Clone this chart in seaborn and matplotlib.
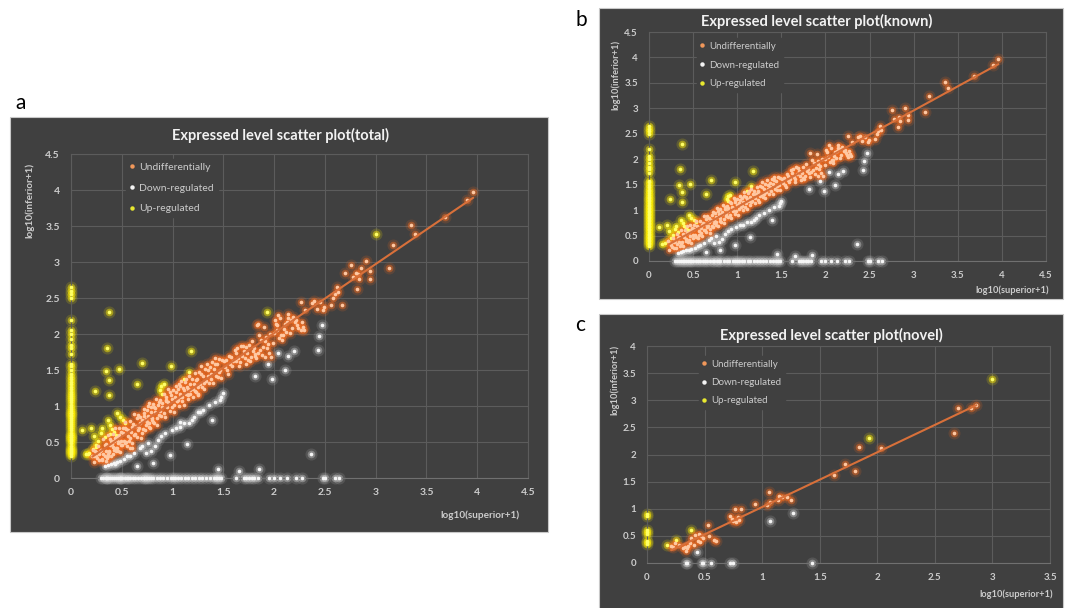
import matplotlib
matplotlib.use("Agg")
import matplotlib.pyplot as plt
import seaborn as sns
import pandas as pd
import numpy as np
from matplotlib.patches import Rectangle
from matplotlib.lines import Line2D
from matplotlib.ticker import FuncFormatter

# ---------------- data ----------------
series_labels = ["Undifferentially", "Down-regulated", "Up-regulated"]
panel_titles = ["Expressed level scatter plot(total)",
                "Expressed level scatter plot(known)",
                "Expressed level scatter plot(novel)"]
x_label = "log10(superior+1)"
y_label = "log10(inferior+1)"

known_undiff = [
    # dense cloud 0.2 - 1.5
    (0.22,0.39),(0.23,0.22),(0.25,0.36),(0.26,0.28),(0.27,0.45),(0.28,0.25),(0.30,0.39),(0.31,0.25),
    (0.32,0.54),(0.33,0.46),(0.34,0.38),(0.35,0.29),(0.36,0.60),(0.37,0.38),(0.38,0.54),(0.39,0.30),
    (0.40,0.47),(0.41,0.61),(0.42,0.39),(0.43,0.69),(0.44,0.37),(0.45,0.57),(0.46,0.49),(0.47,0.70),
    (0.48,0.36),(0.49,0.64),(0.50,0.46),(0.51,0.70),(0.52,0.52),(0.53,0.78),(0.55,0.45),(0.56,0.66),
    (0.57,0.52),(0.58,0.79),(0.59,0.64),(0.60,0.49),(0.61,0.75),(0.62,0.89),(0.63,0.61),(0.64,0.72),
    (0.65,0.57),(0.66,0.88),(0.67,0.69),(0.68,0.85),(0.69,0.56),(0.70,0.81),(0.71,0.68),(0.72,0.96),
    (0.73,0.66),(0.74,0.80),(0.75,0.95),(0.76,0.76),(0.77,1.04),(0.78,0.69),(0.79,0.92),(0.80,0.84),
    (0.81,1.03),(0.82,0.77),(0.83,0.92),(0.84,1.10),(0.85,0.74),(0.86,1.02),(0.87,0.88),(0.88,1.09),
    (0.89,0.86),(0.90,0.98),(0.92,1.16),(0.93,0.85),(0.94,1.07),(0.95,0.99),(0.96,1.24),(0.97,0.93),
    (0.98,1.15),(0.99,0.99),(1.00,1.22),(1.01,0.91),(1.02,1.13),(1.03,1.28),(1.04,1.07),(1.05,1.24),
    (1.06,1.00),(1.07,1.16),(1.08,1.35),(1.09,1.07),(1.10,1.25),(1.11,1.02),(1.12,1.33),(1.13,1.17),
    (1.14,1.26),(1.15,1.10),(1.16,1.42),(1.17,1.17),(1.19,1.37),(1.20,1.13),(1.21,1.31),(1.22,1.46),
    (1.23,1.20),(1.24,1.38),(1.25,1.15),(1.26,1.47),(1.27,1.30),(1.28,1.56),(1.29,1.26),(1.30,1.42),
    (1.31,1.24),(1.32,1.52),(1.33,1.35),(1.34,1.59),(1.35,1.42),(1.36,1.32),(1.37,1.54),(1.38,1.38),
    (1.39,1.61),(1.40,1.32),(1.41,1.51),(1.42,1.66),(1.43,1.42),(1.44,1.58),(1.45,1.40),(1.46,1.65),
    (1.47,1.50),(1.48,1.39),(1.49,1.64),
    (0.245,0.31),(0.285,0.37),(0.315,0.33),(0.345,0.47),(0.365,0.34),(0.395,0.52),(0.415,0.43),
    (0.435,0.55),(0.455,0.42),(0.475,0.60),(0.495,0.51),(0.515,0.63),(0.535,0.48),(0.545,0.68),
    (0.565,0.58),(0.585,0.55),(0.605,0.71),(0.625,0.60),(0.645,0.83),(0.655,0.66),(0.675,0.77),
    (0.695,0.63),(0.715,0.90),(0.735,0.74),(0.755,0.86),(0.765,0.71),(0.785,0.99),(0.805,0.78),
    (0.825,0.97),(0.845,0.83),(0.865,1.06),(0.875,0.93),(0.895,1.04),(0.915,0.90),(0.935,1.13),
    (0.955,1.05),(0.975,1.19),(0.995,1.10),(1.015,1.02),(1.035,1.20),(1.055,1.09),(1.075,1.28),
    (1.095,1.13),(1.115,1.22),(1.135,1.38),(1.155,1.15),(1.175,1.31),(1.205,1.23),(1.235,1.36),
    (1.255,1.27),(1.285,1.45),(1.305,1.32),(1.345,1.50),(1.375,1.45),(1.415,1.59),(1.455,1.47),
    # 1.5 - 2.3
    (1.52,1.54),(1.53,1.64),(1.57,1.59),(1.58,1.68),(1.62,1.73),(1.63,1.80),(1.67,1.84),(1.70,1.77),
    (1.72,1.59),(1.74,1.64),(1.77,1.68),(1.79,1.77),(1.83,2.13),(1.85,1.98),(1.89,1.82),(1.91,1.90),
    (1.91,1.68),(1.92,1.96),(1.95,1.73),(1.97,1.68),(2.00,2.01),(2.01,2.19),(2.02,2.14),(2.04,2.27),
    (2.08,1.92),(2.09,1.98),(2.11,2.14),(2.14,2.22),(2.14,2.28),(2.18,2.09),(2.21,2.16),(2.23,2.12),
    (2.26,2.05),(2.26,2.45),(2.28,2.10),(2.30,2.33),(1.55,1.45),(1.60,1.62),(1.65,1.55),(1.68,1.70),
    (1.75,1.85),(1.81,1.72),(1.86,1.78),(1.94,1.86),(2.05,1.95),(2.12,2.03),(2.17,2.20),
    (1.51,1.62),(1.54,1.50),(1.56,1.70),(1.59,1.55),(1.61,1.78),(1.64,1.66),(1.66,1.61),(1.69,1.83),
    (1.71,1.67),(1.73,1.73),(1.76,1.62),(1.78,1.90),(1.80,1.80),(1.82,1.66),(1.84,1.74),(1.87,1.92),
    (1.88,1.71),(1.90,2.10),(1.93,1.80),(1.96,2.00),(1.99,1.88),(2.03,2.05),(2.06,2.22),(2.07,1.99),
    (2.10,2.07),(2.13,2.16),(2.16,2.02),(2.19,2.24),(2.22,2.19),(2.24,2.08),(2.27,2.17),(2.29,2.06),
    # upper tail
    (2.37,2.43),(2.39,2.46),(2.42,2.35),(2.45,2.44),(2.48,2.33),(2.49,2.38),(2.56,2.40),(2.58,2.50),
    (2.60,2.56),(2.62,2.65),(2.63,2.58),(2.76,2.96),(2.78,2.79),(2.82,2.63),(2.83,2.83),(2.84,2.76),
    (2.90,3.01),(2.94,2.87),(2.94,2.77),(3.13,2.92),(3.17,3.24),(3.35,3.52),(3.39,3.39),(3.68,3.63),
    (3.90,3.86),(3.96,3.97),
]

known_down = [
    (2.47,2.13),(2.44,1.97),(2.43,1.78),(2.36,0.34),(2.20,1.77),(2.14,1.70),(2.11,1.50),(2.04,1.74),
    (1.98,1.37),(1.94,1.58),(1.81,1.41),(1.85,0.12),(1.65,0.10),(1.45,0.13),(1.50,1.18),(1.48,1.13),
    (1.47,1.09),(1.42,1.06),(1.39,0.81),(1.36,1.01),(1.30,0.94),(1.25,0.91),(1.19,0.81),(1.14,0.47),
    (1.16,0.76),(1.11,0.76),(1.07,0.71),(0.99,0.67),(0.97,0.32),(0.93,0.62),(0.89,0.58),(0.86,0.53),
    (0.83,0.44),(0.81,0.21),(0.79,0.37),(0.76,0.49),(0.74,0.35),(0.68,0.41),(0.65,0.17),(0.62,0.35),
    (0.58,0.31),(0.55,0.30),(0.52,0.26),(0.48,0.24),(0.45,0.22),(0.42,0.21),(0.39,0.20),(0.36,0.18),
    (0.33,0.16),(1.03,0.70),(1.21,0.85),(0.70,0.45),
    (0.30,0),(0.32,0),(0.34,0),(0.36,0),(0.38,0),(0.40,0),(0.42,0),(0.44,0),(0.46,0),(0.48,0),
    (0.50,0),(0.53,0),(0.55,0),(0.58,0),(0.61,0),(0.63,0),(0.66,0),(0.69,0),(0.72,0),(0.74,0),
    (0.77,0),(0.79,0),(0.81,0),(0.85,0),(0.88,0),(0.91,0),(0.95,0),(0.98,0),(1.00,0),(1.02,0),
    (1.05,0),(1.08,0),(1.12,0),(1.15,0),(1.19,0),(1.22,0),(1.26,0),(1.29,0),(1.33,0),(1.37,0),
    (1.41,0),(1.44,0),(1.46,0),(1.48,0),(1.62,0),(1.70,0),(1.72,0),(1.75,0),(1.78,0),(1.80,0),
    (1.84,0),(1.95,0),(2.00,0),(2.06,0),(2.13,0),(2.22,0),(2.27,0),(2.48,0),(2.50,0),(2.60,0),
    (2.64,0),
]

known_up = [
    (0,0.30),(0,0.33),(0,0.36),(0,0.39),(0,0.42),(0,0.45),(0,0.48),(0,0.51),(0,0.54),(0,0.57),
    (0,0.60),(0,0.63),(0,0.66),(0,0.69),(0,0.72),(0,0.75),(0,0.78),(0,0.81),(0,0.84),(0,0.87),
    (0,0.90),(0,0.93),(0,0.96),(0,0.99),(0,1.02),(0,1.05),(0,1.08),(0,1.11),(0,1.14),(0,1.17),
    (0,1.20),(0,1.23),(0,1.26),(0,1.30),(0,1.33),(0,1.37),(0,1.40),(0,1.45),(0,1.50),(0,1.55),
    (0,1.58),(0,1.72),(0,1.80),(0,1.85),(0,1.93),(0,2.00),(0,2.06),(0,2.20),(0,2.50),(0,2.55),
    (0,2.60),(0,2.65),
    (0.37,2.30),(0.35,1.80),(0.34,1.49),(0.47,1.52),(0.37,1.36),(0.37,1.15),(0.24,1.21),(0.70,1.60),
    (0.65,1.31),(0.98,1.55),(1.18,1.77),(1.16,1.47),(1.11,1.38),(0.89,1.28),(0.92,1.30),(0.88,1.22),
    (0.90,1.17),(0.11,0.66),(0.20,0.70),(0.23,0.58),(0.18,0.35),(0.27,0.52),(0.31,0.69),(0.36,0.81),
    (0.40,0.68),(0.45,0.90),(0.48,0.85),(0.51,0.80),(0.42,0.64),(0.44,0.60),(0.30,0.62),(0.33,0.57),
    (0.25,0.46),(0.22,0.40),(0.15,0.33),(0.38,0.74),(0.53,0.76),
]

novel_undiff = [
    (2.86,2.92),(2.81,2.85),(2.70,2.85),(2.67,2.40),(2.03,2.12),(1.84,2.14),(1.81,1.70),(1.72,1.82),
    (1.62,1.62),(1.25,1.17),(1.22,1.21),(1.17,1.22),(1.15,1.23),(1.14,1.16),(1.07,1.12),(1.06,1.30),
    (1.04,1.07),(0.94,1.09),(0.82,0.99),(0.76,1.00),(0.79,0.85),(0.80,0.80),(0.77,0.76),(0.75,0.78),
    (0.72,0.86),(0.74,0.82),(0.60,0.41),(0.58,0.42),(0.53,0.70),(0.54,0.50),(0.49,0.46),(0.47,0.50),
    (0.45,0.53),(0.44,0.41),(0.42,0.52),(0.41,0.34),(0.38,0.46),(0.37,0.36),(0.35,0.28),(0.34,0.23),
    (0.33,0.30),(0.31,0.27),(0.28,0.33),(0.24,0.37),(0.23,0.30),(0.21,0.31),(0.46,0.38),(0.36,0.31),
]

novel_down = [
    (1.27,0.92),(1.07,0.78),(0.43,0.20),(0.34,0),(0.35,0),(0.48,0),(0.49,0),(0.56,0),(0.72,0),
    (0.75,0),(1.43,0),
]

novel_up = [
    (3.00,3.39),(1.93,2.31),(0.38,0.61),(0.25,0.43),(0.17,0.33),(0,0.90),(0,0.86),(0,0.60),
    (0,0.57),(0,0.53),(0,0.40),(0,0.35),(0,0.38),
]

# ---------------- styling ----------------
sns.set_theme(style="dark")
plt.rcParams['font.family'] = ['Lato', 'DejaVu Sans']

BG = '#404040'
GRID = '#5c5c5c'
TXT = '#cccccc'
core_col = {"Undifferentially": "#FFC8A2", "Down-regulated": "#F6F6F6", "Up-regulated": "#FFFF66"}
glow_col = {"Undifferentially": "#F26A1E", "Down-regulated": "#C4C4C4", "Up-regulated": "#FFEE00"}
legend_col = {"Undifferentially": "#F0975A", "Down-regulated": "#F4F4F4", "Up-regulated": "#E8E830"}
TREND = '#D8703A'

W, H = 1068, 608
fig = plt.figure(figsize=(W / 100, H / 100), dpi=100, facecolor='white')


def frac_rect(x0, y0, x1, y1):
    return [x0 / W, 1 - y1 / H, (x1 - x0) / W, (y1 - y0) / H]


def to_df(undiff, down, up):
    frames = []
    for lab, pts in zip(series_labels, [undiff, down, up]):
        d = pd.DataFrame(pts, columns=["x", "y"])
        d["group"] = lab
        frames.append(d)
    return pd.concat(frames, ignore_index=True)


def panel(box, axbox, df, xmax, ymax, title, title_xy, ylab_xy, xlab_xy,
          leg_anchor, fs_tick, fs_leg, leg_space, letter, letter_xy):
    l, b, w, h = frac_rect(*box)
    fig.patches.append(Rectangle((l, b), w, h, transform=fig.transFigure,
                                 facecolor=BG, edgecolor='#c8c8c8', lw=0.8, zorder=-5))
    ax = fig.add_axes(frac_rect(*axbox))
    ax.set_zorder(1)
    ax.set_facecolor(BG)
    # draw order: down, up, undiff (outer glow, inner glow, core)
    for lab in ["Down-regulated", "Up-regulated", "Undifferentially"]:
        sub = df[df.group == lab]
        sns.scatterplot(data=sub, x="x", y="y", color=glow_col[lab], s=75, alpha=0.16,
                        linewidth=0, legend=False, ax=ax, clip_on=False, zorder=2)
        sns.scatterplot(data=sub, x="x", y="y", color=glow_col[lab], s=30, alpha=0.45,
                        linewidth=0, legend=False, ax=ax, clip_on=False, zorder=2)
        sns.scatterplot(data=sub, x="x", y="y", color=core_col[lab], s=7, alpha=1.0,
                        linewidth=0, legend=False, ax=ax, clip_on=False, zorder=3)
    und = df[df.group == "Undifferentially"]
    sns.regplot(data=und, x="x", y="y", scatter=False, ci=None, ax=ax, truncate=True,
                line_kws=dict(color=TREND, lw=1.5, zorder=4))
    ax.set_xlim(0, xmax)
    ax.set_ylim(0, ymax)
    ax.set_xticks(np.arange(0, xmax + 0.01, 0.5))
    ax.set_yticks(np.arange(0, ymax + 0.01, 0.5))
    fmt = FuncFormatter(lambda v, p: f"{v:g}")
    ax.xaxis.set_major_formatter(fmt)
    ax.yaxis.set_major_formatter(fmt)
    ax.tick_params(axis='both', length=0, colors=TXT, labelsize=fs_tick)
    ax.tick_params(axis='x', pad=7)
    ax.tick_params(axis='y', pad=8)
    for t in ax.get_xticklabels() + ax.get_yticklabels():
        t.set_fontweight('bold')
    ax.grid(True, color=GRID, lw=0.8)
    for s in ax.spines.values():
        s.set_color(GRID)
        s.set_linewidth(0.8)
    ax.spines['bottom'].set_color('#707070')
    ax.set_xlabel("")
    ax.set_ylabel("")
    handles = [Line2D([], [], ls='none', marker='o', markersize=3.2,
                      markerfacecolor=legend_col[lab], markeredgewidth=0) for lab in series_labels]
    leg = ax.legend(handles, series_labels, loc='upper left', bbox_to_anchor=leg_anchor,
                    frameon=True, facecolor=BG, edgecolor=BG, framealpha=1.0,
                    fontsize=fs_leg, labelcolor=TXT, handlelength=0.5, handletextpad=0.45,
                    borderpad=0.35, labelspacing=leg_space, borderaxespad=0)
    leg.set_zorder(6)
    fig.text(title_xy[0] / W, 1 - title_xy[1] / H, title, ha='center', va='center',
             fontsize=10.5, fontweight='bold', color='#F2F2F2')
    fig.text(ylab_xy[0] / W, 1 - ylab_xy[1] / H, y_label, ha='center', va='center',
             rotation=90, fontsize=fs_tick - 0.3, fontweight='bold', color=TXT)
    fig.text(xlab_xy[0] / W, 1 - xlab_xy[1] / H, x_label, ha='center', va='center',
             fontsize=fs_tick - 0.3, fontweight='bold', color=TXT)
    fig.text(letter_xy[0] / W, 1 - letter_xy[1] / H, letter, ha='center', va='center',
             fontsize=15, color='black')
    return ax


df_known = to_df(known_undiff, known_down, known_up)
df_novel = to_df(novel_undiff, novel_down, novel_up)
df_total = pd.concat([df_known, df_novel], ignore_index=True)

panel((10, 117, 548, 532), (71, 154, 528, 478), df_total, 4.5, 4.5, panel_titles[0],
      (280, 135), (30, 200), (480, 515), (0.12, 0.985), 7.5, 7.5, 1.1, "a", (21, 103))
panel((599, 8, 1063, 299), (649, 32, 1046, 261), df_known, 4.5, 4.5, panel_titles[1],
      (817, 21), (616, 75), (1012, 290), (0.12, 0.972), 7, 7, 1.0, "b", (581, 20))
panel((599, 314, 1063, 612), (647, 346, 1050, 563), df_novel, 3.5, 4.0, panel_titles[2],
      (831, 335), (615, 380), (1016, 594), (0.128, 0.952), 7, 7, 0.95, "c", (580, 325))

fig.savefig("out.png", dpi=100, facecolor='white')
